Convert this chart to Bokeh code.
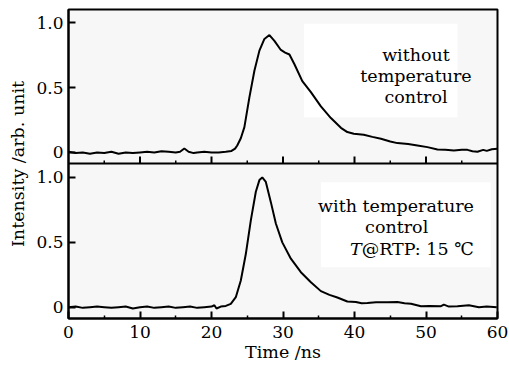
import numpy as np
from bokeh.plotting import figure
from bokeh.models import (ColumnDataSource, FixedTicker, CustomJSTickFormatter, Span,
                          BoxAnnotation, Range1d)
from bokeh.core.properties import value
from bokeh.embed import file_html
from bokeh.resources import INLINE

# ---- data ----
t_without = [0, 1, 2, 3, 4, 5, 6, 7, 8, 9, 10, 11, 12, 13, 14, 15, 15.6, 16.2, 16.8, 17.5, 18, 19, 20,
             21, 22, 22.8, 23.3, 23.6, 24.1, 24.6, 25.3, 26.0, 26.7, 27.4, 28.1, 28.8, 29.7, 30.3,
             30.9, 31.6, 32.7, 33.9, 35.3, 36.7, 38.1, 39.0, 39.9, 41.3, 42.5, 43.7, 45.0, 46.0,
             47.5, 48.8, 50.2, 51.6, 52.7, 53.9, 55.0, 55.8, 56.5, 57.2, 58.0, 58.5, 59.2, 60.0]
i_without = [0.005, -0.005, 0.0, -0.01, 0.0, -0.005, 0.005, -0.01, 0.0, -0.005, 0.0, 0.005, 0.0,
             0.01, 0.005, 0.0, 0.005, 0.03, 0.005, -0.005, 0.0, 0.005, 0.0,
             0.0, 0.005, 0.012, 0.03, 0.054, 0.11, 0.195, 0.425, 0.63, 0.785, 0.875, 0.905, 0.86,
             0.79, 0.77, 0.755, 0.68, 0.55, 0.465, 0.355, 0.265, 0.19, 0.157, 0.144, 0.136, 0.12,
             0.105, 0.085, 0.072, 0.065, 0.054, 0.041, 0.023, 0.02, 0.015, 0.02, 0.02, 0.01, 0.005,
             0.02, 0.012, 0.025, 0.028]

t_with = [0, 1, 2, 3, 4, 5, 6, 7, 8, 9, 10, 11, 12, 13, 14, 15, 16, 17, 18, 19, 20, 20.4, 20.7,
          21.3, 22.0, 22.7, 23.4, 24.1, 24.8, 25.5, 26.2, 26.7, 27.1, 27.6, 28.3, 29.0, 29.9,
          31.1, 32.5, 33.9, 35.3, 36.5, 37.6, 39.0, 40.2, 41.0, 41.8, 43.0, 44.6, 46.0, 47.0,
          47.9, 49.3, 50.5, 52.1, 52.5, 53.2, 54.4, 55.2, 56.0, 57.4, 58.5, 59.9]
i_with = [0.0, 0.005, -0.005, 0.0, 0.005, 0.0, -0.005, 0.0, 0.005, -0.01, 0.0, 0.005, -0.005, 0.0,
          0.005, -0.005, 0.0, 0.005, -0.005, 0.0, 0.005, 0.015, -0.01,
          0.005, 0.01, 0.026, 0.077, 0.206, 0.41, 0.67, 0.89, 0.98, 1.0, 0.966, 0.81, 0.645, 0.50,
          0.374, 0.27, 0.193, 0.124, 0.095, 0.075, 0.044, 0.04, 0.03, 0.033, 0.038, 0.039, 0.04,
          0.03, 0.026, 0.008, 0.01, 0.008, 0.02, 0.005, 0.008, 0.012, 0.015, 0.0, 0.005, 0.0]

x_major_ticks = [0, 10, 20, 30, 40, 50, 60]
x_minor_ticks = [5, 15, 25, 35, 45, 55]
y_ticks = [0, 0.5, 1.0]

# ---- layout constants ----
OFF = 1.193          # vertical offset of the upper panel
MID = 1.108          # border between panels
YMIN, YMAX = -0.087, 2.295
FONT = "DejaVu Serif"

p = figure(width=509, height=365, output_backend="svg", toolbar_location=None,
           x_range=Range1d(0, 60), y_range=Range1d(YMIN, YMAX),
           min_border_left=68, min_border_right=12, min_border_top=9, min_border_bottom=47)
p.background_fill_color = "#f7f7f7"
p.border_fill_color = "white"
p.outline_line_color = "black"
p.outline_line_width = 2
p.grid.visible = False

# axes
xa = p.xaxis[0]
xa.ticker = FixedTicker(ticks=x_major_ticks, minor_ticks=x_minor_ticks)
xa.axis_label = "Time /ns"
ya = p.yaxis[0]
ya.ticker = FixedTicker(ticks=y_ticks + [v + OFF for v in y_ticks])
ya.formatter = CustomJSTickFormatter(args=dict(off=OFF), code="""
    let v = tick > 1.1 ? tick - off : tick;
    v = Math.round(v * 10) / 10;
    return v == 0 ? "0" : v.toFixed(1);
""")
ya.axis_label = "Intensity /arb. unit"
for ax in (xa, ya):
    ax.axis_line_width = 2
    ax.major_tick_in = 7
    ax.major_tick_out = 0
    ax.minor_tick_in = 3
    ax.minor_tick_out = 0
    ax.major_tick_line_width = 2
    ax.minor_tick_line_width = 1.5
    ax.major_label_text_font = FONT
    ax.major_label_text_font_size = "17px"
    ax.major_label_text_color = "black"
    ax.axis_label_text_font = FONT
    ax.axis_label_text_font_size = "17.5px"
    ax.axis_label_text_font_style = "normal"
    ax.axis_label_text_color = "black"
ya.minor_tick_line_color = None
xa.major_label_standoff = 7
xa.axis_label_standoff = 1
ya.major_label_standoff = 5
ya.axis_label_standoff = 5

# border between the two panels with its inward ticks
p.add_layout(Span(location=MID, dimension="width", line_color="black", line_width=2))
px_per_unit = 309 / (YMAX - YMIN)
maj = [x for x in x_major_ticks if 0 < x < 60]
p.segment(x0=maj, x1=maj, y0=[MID] * len(maj), y1=[MID + 7 / px_per_unit] * len(maj),
          line_color="black", line_width=2)
p.segment(x0=x_minor_ticks, x1=x_minor_ticks, y0=[MID] * len(x_minor_ticks),
          y1=[MID + 3 / px_per_unit] * len(x_minor_ticks), line_color="black", line_width=1.5)

# white annotation boxes
p.add_layout(BoxAnnotation(left=32.95, right=54.4, bottom=1.465, top=2.185,
                           fill_color="white", fill_alpha=1, line_color=None, level="underlay"))
p.add_layout(BoxAnnotation(left=35.3, right=59.05, bottom=0.308, top=0.964,
                           fill_color="white", fill_alpha=1, line_color=None, level="underlay"))

# curves
src_top = ColumnDataSource(dict(t=t_without, y=[v + OFF for v in i_without]))
src_bot = ColumnDataSource(dict(t=t_with, y=i_with))
p.line("t", "y", source=src_top, line_color="black", line_width=2)
p.line("t", "y", source=src_bot, line_color="black", line_width=2)

# annotation texts
tk = dict(text_font=value(FONT), text_font_size="17.5px", text_color="black",
          text_baseline="alphabetic")
p.text(x=[48.6, 48.6, 48.6], y=[1.941, 1.783, 1.619],
       text=["without", "temperature", "control"], text_align="center", **tk)
p.text(x=[45.8, 45.9], y=[0.781, 0.617], text=["with temperature", "control"],
       text_align="center", **tk)
p.text(x=[41.0], y=[0.452], text=["T"], text_align="right", text_font_style="italic", **tk)
p.text(x=[41.0], y=[0.452], text=["@RTP: 15 \u2103"], text_align="left", **tk)

open("out.html", "w").write(file_html(p, INLINE))
